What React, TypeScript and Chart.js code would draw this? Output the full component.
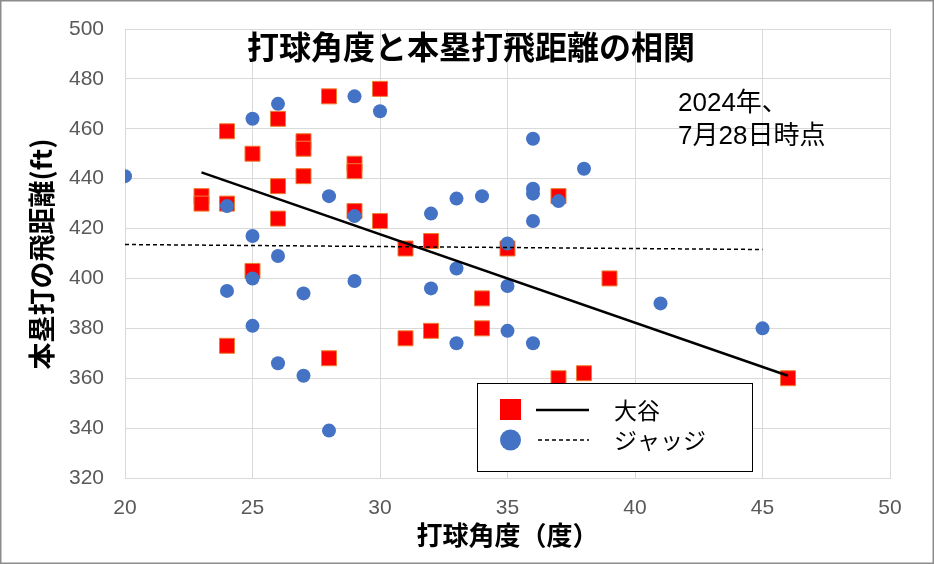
import React, { useEffect, useRef } from "react";
import { Chart, registerables } from "chart.js";

Chart.register(...registerables);

// 大谷 (Ohtani): launch angle (deg) and distance (ft)
const ohtaniAngle = [23, 23, 24, 24, 24, 25, 25, 26, 26, 26, 27, 27, 27, 28, 28, 29, 29, 29, 30, 30, 31, 31, 32, 32, 34, 34, 35, 37, 37, 38, 39, 46];
const ohtaniDist = [433, 430, 459, 430, 373, 450, 403, 464, 437, 424, 455, 452, 441, 473, 368, 446, 443, 427, 476, 423, 412, 376, 415, 379, 392, 380, 412, 433, 360, 362, 400, 360];

// ジャッジ (Judge)
const judgeAngle = [20, 24, 24, 25, 25, 25, 25, 26, 26, 26, 27, 27, 28, 28, 29, 29, 29, 30, 32, 32, 33, 33, 33, 34, 35, 35, 35, 36, 36, 36, 36, 36, 37, 38, 41, 45];
const judgeDist = [441, 429, 395, 464, 417, 400, 381, 470, 409, 366, 394, 361, 433, 339, 473, 425, 399, 467, 426, 396, 432, 404, 374, 433, 414, 397, 379, 456, 436, 434, 423, 374, 431, 444, 390, 380];

// linear trend lines (start / end)
const ohtaniTrendX = [23, 46];
const ohtaniTrendY = [442.5, 361];
const judgeTrendX = [20, 45];
const judgeTrendY = [413.6, 411.6];

const seriesNames = ["大谷", "ジャッジ"];
const chartTitle = "打球角度と本塁打飛距離の相関";
const xTitle = "打球角度（度）";
const yTitle = "本塁打の飛距離(ft)";
const noteLines = ["2024年、", "7月28日時点"];

const xMin = 20, xMax = 50, xStep = 5;
const yMin = 320, yMax = 500, yStep = 20;

function toPoints(xs: number[], ys: number[]) {
  return xs.map((x, i) => ({ x, y: ys[i] }));
}

const RED = "#FF0000";
const RED_BORDER = "#ED7D31";
const BLUE = "#4472C4";
const CJK = '"Noto Sans CJK JP", sans-serif';
const LAT = '"Liberation Sans", "Noto Sans CJK JP", sans-serif';

const overlayPlugin = {
  id: "overlay",
  afterDraw(chart: any) {
    const ctx = chart.ctx as CanvasRenderingContext2D;
    const ca = chart.chartArea;
    ctx.save();
    // chart title
    ctx.fillStyle = "#000";
    ctx.font = `bold 32px ${CJK}`;
    ctx.textAlign = "center";
    ctx.textBaseline = "middle";
    ctx.fillText(chartTitle, 471, 47);

    // note
    ctx.font = `26px ${LAT}`;
    ctx.textAlign = "left";
    ctx.fillText(noteLines[0], 678, 104);
    ctx.fillText(noteLines[1], 678, 137);

    // axis titles
    ctx.font = `bold 26px ${CJK}`;
    ctx.textAlign = "center";
    ctx.fillText(xTitle, (ca.left + ca.right) / 2, 535);
    ctx.save();
    ctx.translate(42, 254);
    ctx.rotate(-Math.PI / 2);
    ctx.font = `bold 27px ${CJK}`;
    ctx.fillText(yTitle, 0, 0);
    ctx.restore();

    // legend
    const lx = 477, ly = 383, lw = 275, lh = 88;
    ctx.fillStyle = "#fff";
    ctx.fillRect(lx, ly, lw, lh);
    ctx.strokeStyle = "#000";
    ctx.lineWidth = 1;
    ctx.strokeRect(lx + 0.5, ly + 0.5, lw, lh);
    // row 1
    ctx.fillStyle = RED;
    ctx.fillRect(500, 399, 21, 21);
    ctx.strokeStyle = "#000";
    ctx.lineWidth = 2.5;
    ctx.beginPath();
    ctx.moveTo(536, 410);
    ctx.lineTo(589, 410);
    ctx.stroke();
    // row 2
    ctx.fillStyle = BLUE;
    ctx.beginPath();
    ctx.arc(510.5, 440, 10.5, 0, Math.PI * 2);
    ctx.fill();
    ctx.lineWidth = 1.5;
    ctx.setLineDash([4, 3]);
    ctx.beginPath();
    ctx.moveTo(538, 440);
    ctx.lineTo(589, 440);
    ctx.stroke();
    ctx.setLineDash([]);
    ctx.fillStyle = "#000";
    ctx.font = `23px ${CJK}`;
    ctx.textAlign = "left";
    ctx.textBaseline = "middle";
    ctx.fillText(seriesNames[0], 614, 410);
    ctx.fillText(seriesNames[1], 614, 440);

    // outer border
    ctx.strokeStyle = "#8c8c8c";
    ctx.lineWidth = 1.5;
    ctx.strokeRect(0.75, 0.75, chart.width - 1.5, chart.height - 1.5);
    ctx.restore();
  },
};

export default function App() {
  const ref = useRef<HTMLCanvasElement | null>(null);
  useEffect(() => {
    document.body.style.margin = "0";
    if (!ref.current) return;
    const chart = new Chart(ref.current, {
      type: "scatter",
      data: {
        datasets: [
          {
            label: seriesNames[0],
            data: toPoints(ohtaniAngle, ohtaniDist),
            pointStyle: "rect",
            pointRadius: 10.6,
            backgroundColor: RED,
            borderColor: RED_BORDER,
            borderWidth: 1,
            order: 2,
          },
          {
            label: seriesNames[1],
            data: toPoints(judgeAngle, judgeDist),
            pointStyle: "circle",
            pointRadius: 7,
            backgroundColor: BLUE,
            borderColor: BLUE,
            borderWidth: 0,
            order: 1,
          },
          {
            label: seriesNames[0] + " trend",
            data: toPoints(ohtaniTrendX, ohtaniTrendY),
            showLine: true,
            pointRadius: 0,
            borderColor: "#000",
            borderWidth: 2.5,
            order: 0,
          },
          {
            label: seriesNames[1] + " trend",
            data: toPoints(judgeTrendX, judgeTrendY),
            showLine: true,
            pointRadius: 0,
            borderColor: "#000",
            borderWidth: 1.5,
            borderDash: [4, 3],
            order: 0,
          },
        ],
      },
      options: {
        animation: false,
        responsive: false,
        maintainAspectRatio: false,
        layout: { padding: { left: 0, top: 29, right: 44, bottom: 0 } },
        plugins: {
          legend: { display: false },
          tooltip: { enabled: false },
          title: { display: false },
        },
        scales: {
          x: {
            type: "linear",
            min: xMin,
            max: xMax,
            afterFit: (s: any) => { s.height = 86; },
            ticks: {
              stepSize: xStep,
              padding: 18,
              color: "#595959",
              font: { family: LAT, size: 21 },
            },
            grid: { color: "#d9d9d9", lineWidth: 1, drawTicks: false },
            border: { color: "#d9d9d9" },
          },
          y: {
            type: "linear",
            min: yMin,
            max: yMax,
            afterFit: (s: any) => { s.width = 125; },
            ticks: {
              stepSize: yStep,
              padding: 0,
              color: "#595959",
              font: { family: LAT, size: 21 },
            },
            grid: {
              color: "#d9d9d9",
              lineWidth: 1,
              drawTicks: true,
              tickLength: 21,
              tickColor: "rgba(0,0,0,0)",
            },
            border: { color: "#d9d9d9" },
          },
        },
      },
      plugins: [overlayPlugin],
    });
    return () => chart.destroy();
  }, []);
  return (
    <div style={{ width: 934, height: 564, position: "relative" }}>
      <canvas ref={ref} width={934} height={564} style={{ display: "block" }} />
    </div>
  );
}
